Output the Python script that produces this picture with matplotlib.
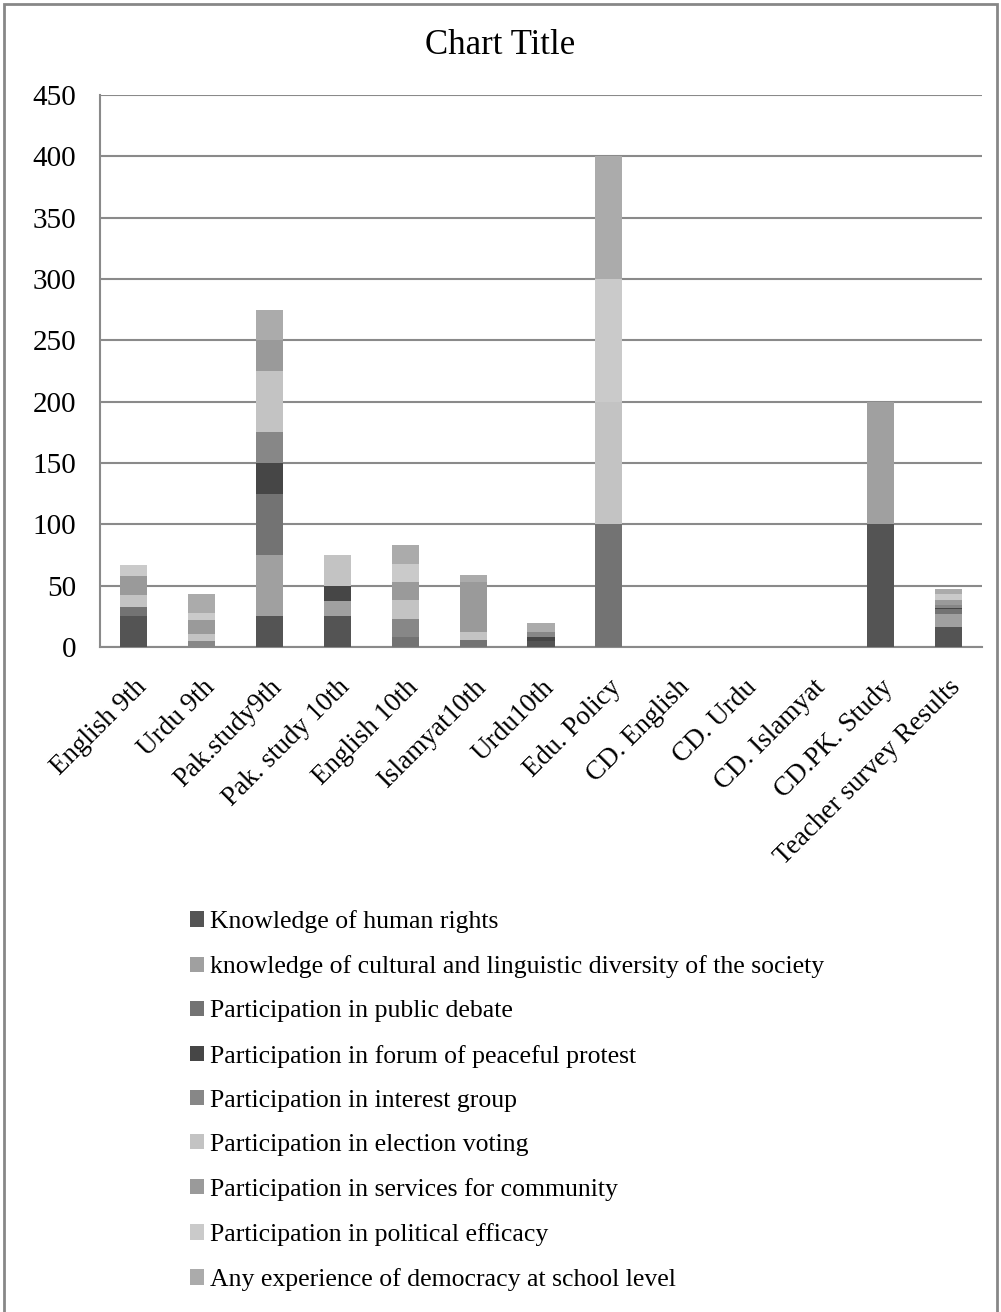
import numpy as np
import matplotlib.pyplot as plt
from matplotlib.patches import Rectangle

plt.rcParams['font.family'] = ['Liberation Serif', 'DejaVu Serif']

categories = ['English 9th', 'Urdu 9th', 'Pak.study9th', 'Pak. study 10th', 'English 10th',
              'Islamyat10th', 'Urdu10th', 'Edu. Policy', 'CD. English', 'CD. Urdu',
              'CD. Islamyat', 'CD.PK. Study', 'Teacher survey Results']

series_names = ['Knowledge of human rights',
                'knowledge of cultural and linguistic diversity of the society',
                'Participation in public debate',
                'Participation in forum of peaceful protest',
                'Participation in interest group',
                'Participation in election voting',
                'Participation in services for community',
                'Participation in political efficacy',
                'Any experience of democracy at school level']

human_rights = [25, 0, 25, 25, 0, 0, 5, 0, 0, 0, 0, 100, 16]
cultural     = [0, 0, 50, 12.5, 0, 0, 0, 0, 0, 0, 0, 100, 11]
debate       = [8, 0, 50, 0, 8, 6, 0, 100, 0, 0, 0, 0, 4]
protest      = [0, 0, 25, 12.5, 0, 0, 3.5, 0, 0, 0, 0, 0, 1]
interest     = [0, 5, 25, 0, 15, 0, 3.5, 0, 0, 0, 0, 0, 2]
election     = [9, 6, 50, 25, 15, 6, 0, 100, 0, 0, 0, 0, 0]
services     = [16, 11, 25, 0, 15, 41, 0, 0, 0, 0, 0, 0, 4]
efficacy     = [9, 6, 0, 0, 15, 0, 0, 100, 0, 0, 0, 0, 5]
democracy    = [0, 15, 25, 0, 15, 6, 7.5, 100, 0, 0, 0, 0, 4]

series = [human_rights, cultural, debate, protest, interest,
          election, services, efficacy, democracy]
colors = ['#545454', '#a0a0a0', '#737373', '#464646', '#878787',
          '#c3c3c3', '#9a9a9a', '#cacaca', '#ababab']

fig = plt.figure(figsize=(10.01, 13.12), dpi=100)
W, H = 1001, 1312

# borde exterior del gráfico
fig.patches.append(Rectangle((4 / W, -0.01), 993 / W, 1 - 4 / H + 0.01,
                             transform=fig.transFigure, fill=False,
                             edgecolor='#878787', linewidth=2))

ax = fig.add_axes([100 / W, 1 - 647 / H, 882 / W, 552 / H])
x = np.arange(len(categories))
bottom = np.zeros(len(categories))
for vals, name, c in zip(series, series_names, colors):
    ax.bar(x, vals, width=0.4, bottom=bottom, color=c, label=name,
           linewidth=0, zorder=3)
    bottom += np.array(vals)

ax.set_xlim(-0.5, len(categories) - 0.5)
ax.set_ylim(0, 450)
ax.set_yticks(range(0, 451, 50))
ax.yaxis.grid(True, color='#8a8a8a', linewidth=1.5, zorder=0)
ax.set_axisbelow(True)
for s in ['top', 'right']:
    ax.spines[s].set_visible(False)
for s in ['left', 'bottom']:
    ax.spines[s].set_color('#8a8a8a')
    ax.spines[s].set_linewidth(1.5)
ax.tick_params(axis='x', length=0, labelsize=19.5, pad=20)
ax.tick_params(axis='y', length=0, labelsize=21, pad=17)
ax.set_xticks(x)
ax.set_xticklabels(categories, rotation=45, ha='right', rotation_mode='anchor')

fig.text(500 / W, 1 - 45 / H, 'Chart Title', ha='center', va='center', fontsize=25)

fig.legend(loc='upper left', bbox_to_anchor=(180 / W, 1 - 900 / H),
           frameon=False, fontsize=18.5, handlelength=0.55, handleheight=0.55,
           handletextpad=0.2, labelspacing=0.86, borderaxespad=0)

plt.savefig('out.png', dpi=100)
